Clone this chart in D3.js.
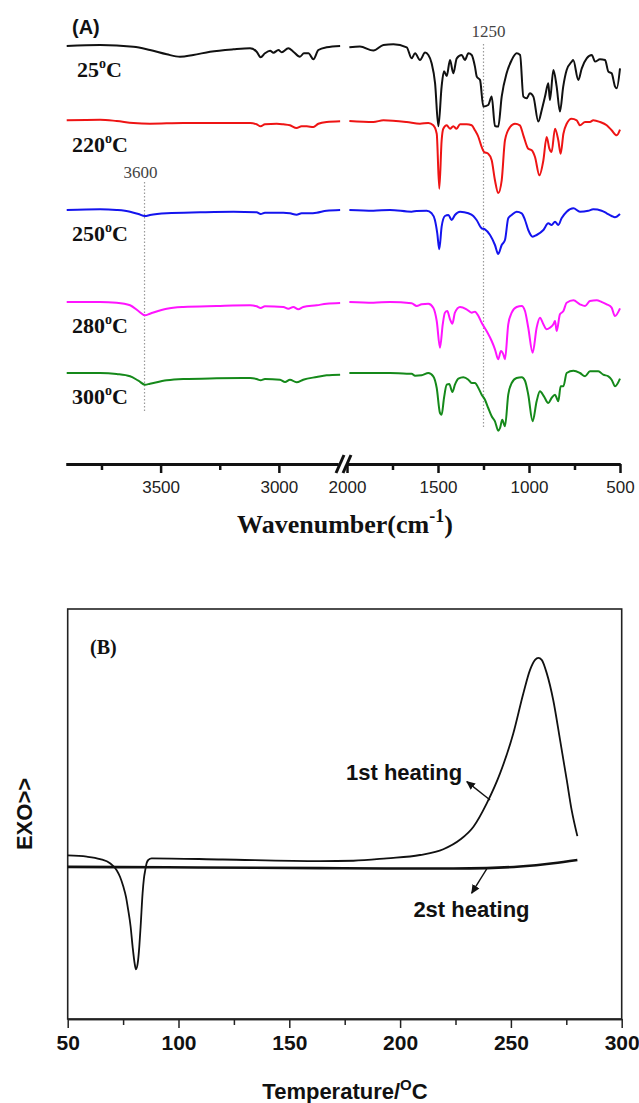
<!DOCTYPE html>
<html>
<head>
<meta charset="utf-8">
<script src="https://cdn.jsdelivr.net/npm/d3@7"></script>
<style>
  body { margin: 0; background: #fff; }
  svg { display: block; }
</style>
</head>
<body>
<svg id="chart" width="639" height="1103"></svg>
<script>
const SANS = '"Liberation Sans", Arial, sans-serif';
const SERIF = '"Liberation Serif", "Times New Roman", serif';

// ---- (A) FTIR, [wavenumber cm-1, transmittance change a.u.] ----
const ftirTemps = ["25", "220", "250", "280", "300"];
const ftirColors = ["#111111", "#ee1414", "#1414ee", "#ff14ff", "#15891a"];
const ftirOffsets = [394, 319, 230, 138, 67];

const ftir25 = [
  [3897, 0], [3756, 1], [3615, -0.7], [3545, -4], [3474, -8.3], [3418, -10.7], [3362, -9], [3291, -5.7],
  [3192, -3.3], [3122, -2.3], [3094, -5.7], [3077, -11.3], [3059, -7.3], [3037, -4.7], [3023, -6.7],
  [3002, -4], [2988, -6.3], [2960, -2.3], [2939, -5.7], [2911, -10.7], [2894, -7.3], [2875, -7.3],
  [2854, -13.3], [2833, -4], [2798, -1.3], [2741, 0],
  [1987, -1.3], [1929, -0.6], [1855, -4.6], [1800, 1], [1745, 1.7], [1672, -1.3], [1645, -12.3], [1626, -7.3],
  [1599, -14], [1571, -6.6], [1553, -9], [1535, -17.3], [1516, -37.3], [1498, -80.3], [1480, -40.3],
  [1467, -25.3], [1452, -30], [1434, -14], [1416, -27.3], [1397, -12.3], [1370, -9], [1352, -14],
  [1333, -7.3], [1315, -9], [1297, -20.6], [1287, -30.6], [1269, -34], [1251, -60.6], [1224, -59],
  [1205, -50.6], [1187, -80], [1169, -80.6], [1150, -50.6], [1123, -27.3], [1095, -14], [1068, -7.3],
  [1049, -9], [1031, -50.6], [1013, -52.3], [995, -47.3], [976, -50.6], [949, -75.6], [930, -64],
  [912, -50.6], [894, -37.3], [885, -54], [866, -24], [848, -40.6], [830, -65.6], [812, -40.6],
  [793, -24], [765, -15.6], [757, -14], [729, -34], [710, -22.3], [683, -12.3], [655, -9], [637, -15.6],
  [610, -13.3], [582, -14], [564, -25.6], [546, -27.3], [527, -40.6], [518, -42.3], [500, -22.3]
];

const ftir220 = [
  [3897, 0.7], [3756, 1.3], [3686, 0], [3615, -2], [3545, -2.7], [3404, -2], [3263, -2], [3122, -2],
  [3094, -3.3], [3077, -5.3], [3059, -3.3], [3009, -2.7], [2981, -3.3], [2953, -4.3], [2925, -7],
  [2904, -5.3], [2882, -5.3], [2854, -6], [2833, -2.7], [2798, -1], [2741, -0.3],
  [1987, 0], [1855, -1], [1800, 0.7], [1672, -1], [1599, -2.7], [1553, -2], [1526, -4.3], [1507, -12.7],
  [1493, -67.7], [1480, -19.3], [1471, -7.7], [1452, -4.3], [1434, -7.7], [1416, -5.3], [1398, -7.7],
  [1379, -3.3], [1343, -3.3], [1315, -4.3], [1297, -9.3], [1278, -16], [1260, -26], [1247, -31],
  [1224, -32.7], [1205, -39.3], [1187, -59.3], [1169, -72], [1150, -59.3], [1132, -19.3], [1104, -6],
  [1077, -2.7], [1050, -4.3], [1031, -14.3], [1004, -27.7], [985, -29.3], [967, -36], [943, -54.3],
  [921, -39.3], [903, -16], [888, -27.7], [876, -31], [857, -7.7], [839, -19.3], [826, -32.7],
  [811, -12.7], [793, -2.7], [766, 2.3], [738, 0.7], [720, -4.3], [692, -1], [665, -1], [647, 0.7],
  [610, -1], [573, -4.3], [546, -9.3], [518, -14.3], [500, -8.7]
];

const ftir250 = [
  [3897, 0], [3756, 0.7], [3686, 0], [3629, -1.7], [3594, -4], [3566, -6], [3545, -5], [3474, -3.3],
  [3333, -2.3], [3192, -1.7], [3094, -2.3], [3077, -4], [3059, -2.7], [2981, -2.7], [2953, -3.3],
  [2925, -4.7], [2904, -3.3], [2868, -3.3], [2840, -2.7], [2798, -0.7], [2741, 0],
  [1987, 0], [1855, -0.7], [1764, 0], [1645, -1.7], [1617, -1], [1562, -0.7], [1535, -3.3], [1517, -10],
  [1504, -23.3], [1493, -39.3], [1480, -16.7], [1462, -6], [1443, -5], [1425, -10], [1407, -5],
  [1379, -1.7], [1333, -3.3], [1306, -6], [1288, -10], [1260, -18.3], [1242, -19.3], [1214, -25],
  [1187, -35], [1169, -44], [1150, -35], [1132, -30], [1114, -8.3], [1095, -5], [1068, -1.7],
  [1040, -3.3], [1022, -10], [1004, -20], [980, -26.7], [958, -25], [921, -20], [894, -13.3],
  [876, -15], [857, -11.7], [839, -15], [821, -8.3], [793, -1.7], [756, 1.7], [720, -1.7], [674, -0.7],
  [647, 0.7], [601, -0.7], [573, -3.3], [546, -6], [528, -7.3], [500, -4]
];

const ftir280 = [
  [3897, 0], [3756, 0], [3686, -0.7], [3629, -3.3], [3594, -9], [3566, -13.3], [3545, -11.7],
  [3474, -6.7], [3404, -5], [3263, -4], [3122, -3.3], [3094, -4.3], [3077, -6], [3059, -4.3],
  [2981, -5], [2960, -6.7], [2939, -5], [2918, -7.3], [2897, -5], [2840, -3.3], [2798, -1.7], [2741, -1],
  [1987, 0], [1855, -0.7], [1764, 0], [1645, -1.3], [1617, -4], [1590, -2.3], [1553, -1.7], [1526, -5.7],
  [1507, -19], [1489, -45.7], [1474, -22.3], [1462, -10.7], [1449, -9], [1434, -17.3], [1421, -21.7],
  [1407, -10.7], [1379, -5], [1343, -7.3], [1315, -10.7], [1297, -9.7], [1278, -14], [1260, -20.7],
  [1233, -29], [1205, -39], [1187, -47.3], [1169, -57.3], [1154, -49], [1141, -52.3], [1132, -57.3],
  [1114, -22.3], [1095, -10.7], [1068, -5], [1040, -4], [1022, -9], [1004, -25.7], [980, -50.7],
  [958, -25.7], [940, -15.7], [921, -22.3], [903, -27.3], [885, -25.7], [866, -22.3], [857, -19],
  [848, -29], [830, -12.3], [811, -9], [793, -0.7], [756, 1.7], [720, -2.3], [692, -4], [665, 1],
  [628, 1.7], [601, 0], [573, -2.3], [546, -5.7], [528, -14], [500, -6.3]
];

const ftir300 = [
  [3897, 0], [3756, 0], [3686, -1], [3629, -3.3], [3594, -7.7], [3566, -11.7], [3545, -10.7],
  [3474, -7.3], [3404, -6], [3263, -5.3], [3122, -5], [3094, -6], [3077, -7.3], [3059, -6],
  [2995, -6.7], [2974, -9], [2953, -6.7], [2925, -9.3], [2897, -6.7], [2840, -4], [2798, -2.3], [2741, -1.7],
  [1987, 0], [1855, 0], [1764, 0], [1672, -0.7], [1645, -0.7], [1626, -2.7], [1590, -2.3], [1553, 0],
  [1526, -3.3], [1507, -15], [1489, -40], [1480, -41.7], [1467, -25], [1452, -11.7], [1438, -11],
  [1421, -19], [1407, -11.7], [1388, -5.7], [1361, -4.3], [1333, -6.7], [1315, -10], [1297, -10],
  [1278, -15], [1260, -21.7], [1242, -26.7], [1224, -35], [1205, -43.3], [1187, -48.3], [1169, -57.7],
  [1159, -55], [1147, -46.7], [1132, -53.3], [1114, -21.7], [1095, -10], [1068, -5], [1040, -4.3],
  [1022, -7.7], [1004, -21.7], [980, -48.3], [958, -28.3], [940, -18.3], [918, -23.3], [894, -30],
  [876, -25], [857, -21.7], [848, -25], [839, -28.3], [826, -13.3], [811, -13.3], [793, 0], [756, 2.3],
  [720, 0], [692, -3.3], [665, 1.7], [619, 1.7], [592, -1.7], [564, -3.3], [546, -6.7], [527, -13.3], [500, -5.7]
];

const ftirSeries = [ftir25, ftir220, ftir250, ftir280, ftir300];
const ftirTicksLeft = [3500, 3000];
const ftirMinorLeft = [3750, 3250];
const ftirTicksRight = [2000, 1500, 1000, 500];
const ftirMinorRight = [1750, 1250, 750];

// ---- (B) DSC, [temperature C, heat flow a.u.] ----
const dscFirst = [
  [50, 3.99], [58.6, 3.96], [64.6, 3.9], [69.1, 3.8], [72.1, 3.63], [73.6, 3.47], [75.1, 3.23],
  [76.3, 2.98], [77.3, 2.66], [78.4, 2.25], [79.3, 1.76], [80.2, 1.36], [80.8, 1.21], [81.6, 1.36],
  [82.3, 1.76], [82.9, 2.25], [83.8, 3.07], [84.4, 3.43], [85, 3.63], [85.6, 3.8], [86.4, 3.88],
  [87.9, 3.92], [120, 3.89], [163.9, 3.85], [178.9, 3.86], [194, 3.92], [209, 4], [219.5, 4.14],
  [227, 4.37], [233.1, 4.69], [239.1, 5.26], [245.1, 5.99], [251.1, 6.97], [255.6, 7.94], [258.6, 8.51],
  [260.9, 8.76], [262.4, 8.81], [263.9, 8.76], [266.2, 8.43], [269.1, 7.78], [272.2, 6.8], [275.2, 5.83],
  [277.4, 5.1], [280, 4.46]
];
const dscSecond = [
  [50, 3.71], [94.7, 3.7], [163.9, 3.68], [194, 3.67], [224, 3.67], [239.1, 3.68], [254.1, 3.72],
  [269.1, 3.8], [280, 3.88]
];
const dscTicks = [50, 100, 150, 200, 250, 300];
const dscMinor = [75, 125, 175, 225, 275];

const svg = d3.select("#chart");

// ================= panel A =================
const xLeft = d3.scaleLinear().domain([3900, 2750]).range([66, 338]);
const xRight = d3.scaleLinear().domain([2000, 500]).range([347, 620]);
const yA = d3.scaleLinear().domain([0, 420]).range([440, 20]);
const axisY = 464;

const gA = svg.append("g").attr("class", "panel-a");

// reference marks
const marks = [
  { x: xLeft(3568), y0: yA(258), y1: yA(27), label: "3600", lx: xLeft(3568) - 4, ly: yA(262) },
  { x: xRight(1250), y0: yA(396), y1: yA(13), label: "1250", lx: xRight(1250) + 5, ly: yA(403) },
];
marks.forEach((m) => {
  gA.append("line")
    .attr("x1", m.x).attr("x2", m.x).attr("y1", m.y0).attr("y2", m.y1)
    .attr("stroke", "#9a9a9a").attr("stroke-width", 1.2).attr("stroke-dasharray", "1.5,2");
  gA.append("text")
    .attr("x", m.lx).attr("y", m.ly)
    .attr("text-anchor", "middle")
    .style("font-family", SERIF).style("font-size", "17px").attr("fill", "#444")
    .text(m.label);
});

ftirSeries.forEach((data, i) => {
  const off = ftirOffsets[i];
  const hi = data.filter((d) => d[0] > 2400);
  const lo = data.filter((d) => d[0] <= 2400);
  const lineHi = d3.line().x((d) => xLeft(d[0])).y((d) => yA(off + d[1])).curve(d3.curveMonotoneX);
  const lineLo = d3.line().x((d) => xRight(d[0])).y((d) => yA(off + d[1])).curve(d3.curveMonotoneX);
  [[hi, lineHi], [lo, lineLo]].forEach(([pts, ln]) => {
    gA.append("path")
      .datum(pts)
      .attr("fill", "none")
      .attr("stroke", ftirColors[i])
      .attr("stroke-width", 2)
      .attr("stroke-linejoin", "round")
      .attr("d", ln);
  });

  const lbl = gA.append("text")
    .attr("x", i === 0 ? 77 : 72).attr("y", yA(off) + 31)
    .style("font-family", SERIF).style("font-weight", "bold").style("font-size", "22px")
    .attr("fill", "#111");
  lbl.append("tspan").text(ftirTemps[i]);
  lbl.append("tspan").attr("dy", -9).style("font-size", "14px").text("o");
  lbl.append("tspan").attr("dy", 9).text("C");
});

gA.append("text")
  .attr("x", 72).attr("y", 34)
  .style("font-family", SANS).style("font-weight", "bold").style("font-size", "20px")
  .attr("fill", "#111").text("(A)");

// broken x axis
const styleAxis = (g, w) => {
  g.select(".domain").attr("stroke", "#111").attr("stroke-width", w);
  g.selectAll(".tick line").attr("stroke", "#111").attr("stroke-width", 2.5);
};
const drawAxis = (scale, major, minor) => {
  const gMinor = gA.append("g").attr("transform", `translate(0,${axisY})`)
    .call(d3.axisBottom(scale).tickValues(minor).tickSize(6).tickSizeOuter(0).tickFormat(""));
  styleAxis(gMinor, 3);
  const gMajor = gA.append("g").attr("transform", `translate(0,${axisY})`)
    .call(d3.axisBottom(scale).tickValues(major).tickSize(9).tickPadding(8).tickSizeOuter(0).tickFormat(d3.format("d")));
  styleAxis(gMajor, 3);
  gMajor.selectAll(".tick text")
    .style("font-family", SANS).style("font-size", "17px").attr("fill", "#222");
};
drawAxis(xLeft, ftirTicksLeft, ftirMinorLeft);
drawAxis(xRight, ftirTicksRight, ftirMinorRight);

[340, 347].forEach((cx) => {
  gA.append("line")
    .attr("x1", cx - 4).attr("y1", axisY + 9).attr("x2", cx + 4).attr("y2", axisY - 9)
    .attr("stroke", "#111").attr("stroke-width", 3);
});

const titleA = gA.append("text")
  .attr("x", 345).attr("y", 533).attr("text-anchor", "middle")
  .style("font-family", SERIF).style("font-weight", "bold").style("font-size", "26px")
  .attr("fill", "#111");
titleA.append("tspan").text("Wavenumber(cm");
titleA.append("tspan").attr("dy", -11).style("font-size", "18px").text("-1");
titleA.append("tspan").attr("dy", 11).text(")");

// ================= panel B =================
const xB = d3.scaleLinear().domain([50, 300]).range([67.7, 621.7]);
const yB = d3.scaleLinear().domain([0, 10]).range([1019, 609]);
const gB = svg.append("g").attr("class", "panel-b");

gB.append("rect")
  .attr("x", xB(50)).attr("y", yB(10))
  .attr("width", xB(300) - xB(50)).attr("height", yB(0) - yB(10))
  .attr("fill", "none").attr("stroke", "#222").attr("stroke-width", 1.6);

const gBMinor = gB.append("g").attr("transform", `translate(0,${yB(0)})`)
  .call(d3.axisBottom(xB).tickValues(dscMinor).tickSize(6).tickSizeOuter(0).tickFormat(""));
gBMinor.select(".domain").attr("stroke", "#222").attr("stroke-width", 1.6);
gBMinor.selectAll(".tick line").attr("stroke", "#222").attr("stroke-width", 1.5);

const gBAxis = gB.append("g").attr("transform", `translate(0,${yB(0)})`)
  .call(d3.axisBottom(xB).tickValues(dscTicks).tickSize(9).tickPadding(7).tickSizeOuter(0));
gBAxis.select(".domain").attr("stroke", "#222").attr("stroke-width", 1.6);
gBAxis.selectAll(".tick line").attr("stroke", "#222").attr("stroke-width", 1.5);
gBAxis.selectAll(".tick text")
  .style("font-family", SANS).style("font-weight", "bold").style("font-size", "21px").attr("fill", "#111");

const dscLine = d3.line().x((d) => xB(d[0])).y((d) => yB(d[1])).curve(d3.curveMonotoneX);
gB.append("path").datum(dscSecond)
  .attr("fill", "none").attr("stroke", "#111").attr("stroke-width", 2.6).attr("d", dscLine);
gB.append("path").datum(dscFirst)
  .attr("fill", "none").attr("stroke", "#111").attr("stroke-width", 1.8).attr("d", dscLine);

svg.append("defs").append("marker")
  .attr("id", "arrow")
  .attr("viewBox", "0 -5 10 10")
  .attr("refX", 9).attr("refY", 0)
  .attr("markerWidth", 9).attr("markerHeight", 9)
  .attr("markerUnits", "userSpaceOnUse")
  .attr("orient", "auto")
  .append("path").attr("d", "M0,-4.5L10,0L0,4.5Z").attr("fill", "#111");

const arrows = [
  { from: [240.6, 5.34], to: [230.1, 5.79] },
  { from: [239.1, 3.66], to: [232.3, 3.07] },
];
arrows.forEach((a) => {
  gB.append("line")
    .attr("x1", xB(a.from[0])).attr("y1", yB(a.from[1]))
    .attr("x2", xB(a.to[0])).attr("y2", yB(a.to[1]))
    .attr("stroke", "#111").attr("stroke-width", 1.4)
    .attr("marker-end", "url(#arrow)");
});

const bText = (x, y, anchor, txt) =>
  gB.append("text").attr("x", x).attr("y", y).attr("text-anchor", anchor)
    .style("font-family", SANS).style("font-weight", "bold").style("font-size", "22px")
    .attr("fill", "#111").text(txt);

bText(xB(228), yB(5.83), "end", "1st heating");
bText(xB(232.2), yB(2.5), "middle", "2st heating");

gB.append("text")
  .attr("x", 90).attr("y", 654)
  .style("font-family", SERIF).style("font-weight", "bold").style("font-size", "20px")
  .attr("fill", "#111").text("(B)");

gB.append("text")
  .attr("transform", "translate(32,814) rotate(-90)")
  .attr("text-anchor", "middle")
  .style("font-family", SANS).style("font-weight", "bold").style("font-size", "22px")
  .attr("fill", "#111").text("EXO>>");

const titleB = gB.append("text")
  .attr("x", 345).attr("y", 1099).attr("text-anchor", "middle")
  .style("font-family", SANS).style("font-weight", "bold").style("font-size", "22px")
  .attr("fill", "#111");
titleB.append("tspan").text("Temperature/");
titleB.append("tspan").attr("dy", -9).style("font-size", "15px").text("O");
titleB.append("tspan").attr("dy", 9).text("C");
</script>
</body>
</html>
